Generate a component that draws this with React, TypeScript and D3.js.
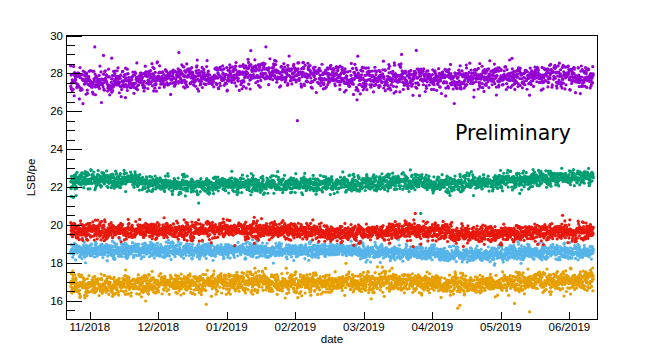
import React from 'react';
import * as d3 from 'd3';

// x positions are expressed in "tick index" units (0 = 11/2018, 1 = 12/2018, ...)
const TICK_LABELS = ['11/2018', '12/2018', '01/2019', '02/2019', '03/2019', '04/2019', '05/2019', '06/2019'];
const Y_MAJOR = [16, 18, 20, 22, 24, 26, 28, 30];

// Band centres at these x positions
const KNOTS = [-0.3, 0, 0.5, 1, 1.5, 2, 2.5, 3, 3.5, 4, 4.5, 5, 5.5, 6, 6.5, 7, 7.4];
const PURPLE_MEAN = [27.6, 27.6, 27.55, 27.7, 27.8, 27.85, 28.05, 28.0, 27.8, 27.75, 27.8, 27.75, 27.75, 27.8, 27.85, 27.85, 27.8];
const GREEN_MEAN = [22.3, 22.45, 22.35, 22.2, 22.1, 22.1, 22.15, 22.15, 22.15, 22.15, 22.3, 22.15, 22.2, 22.3, 22.4, 22.5, 22.5];
const RED_MEAN = [19.75, 19.7, 19.7, 19.7, 19.7, 19.75, 19.7, 19.7, 19.6, 19.55, 19.7, 19.7, 19.5, 19.55, 19.65, 19.65, 19.7];
const BLUE_MEAN = [18.6, 18.65, 18.65, 18.65, 18.65, 18.65, 18.65, 18.65, 18.65, 18.6, 18.55, 18.5, 18.4, 18.5, 18.55, 18.55, 18.55];
const ORANGE_MEAN = [16.85, 16.8, 16.85, 16.9, 16.9, 16.95, 17.0, 16.95, 16.9, 16.95, 17.0, 16.9, 16.8, 16.9, 17.0, 17.05, 17.05];

// Band widths (standard deviation) and share of wide scatter
const SPREADS = { purple: 0.32, green: 0.21, red: 0.22, blue: 0.19, orange: 0.26 };
const TAILS = { purple: 0.05, green: 0.015, red: 0.02, blue: 0.015, orange: 0.015 };
const COUNTS = { purple: 2000, green: 2300, red: 2400, blue: 2400, orange: 2400 };

// Individual outliers [x, value]
const PURPLE_OUT = [[3.03, 25.5], [2.57, 29.4], [0.2, 28.95], [0.32, 28.8], [1.3, 29.1], [-0.28, 28.4], [2.35, 29.2], [4.55, 29.0], [-0.1, 26.4], [3.9, 26.6]];
const GREEN_OUT = [[-0.27, 21.5], [-0.24, 21.45], [-0.2, 21.55], [4.83, 20.6], [5.6, 21.55], [1.3, 21.6]];
const RED_OUT = [[4.75, 20.6], [6.9, 20.5], [2.4, 20.4]];
const ORANGE_OUT = [[5.37, 15.6], [5.4, 15.75], [1.7, 15.8], [6.2, 15.85], [-0.25, 17.55]];

const COLORS = { purple: '#9400d3', green: '#009e73', red: '#e8190e', blue: '#56b4e9', orange: '#e69f00' };

const W = 664, H = 355;
const X0 = 66.5, X1 = 597.5, Y0 = 35.5, Y1 = 319.5;

function mulberry(seed: number) {
  let a = seed >>> 0;
  return () => {
    a = (a + 0x6d2b79f5) >>> 0;
    let t = a;
    t = Math.imul(t ^ (t >>> 15), t | 1);
    t ^= t + Math.imul(t ^ (t >>> 7), t | 61);
    return ((t ^ (t >>> 14)) >>> 0) / 4294967296;
  };
}

function makeSeries(means: number[], sd: number, tail: number, n: number, seed: number, outliers: number[][]) {
  const rnd = mulberry(seed);
  const interp = d3.scaleLinear().domain(KNOTS).range(means).clamp(true);
  const t0 = -0.28, t1 = 7.35;
  const pts: number[][] = [];
  for (let i = 0; i < n; i++) {
    const t = t0 + ((t1 - t0) * (i + rnd())) / n;
    const u1 = Math.max(rnd(), 1e-9), u2 = rnd();
    let z = Math.sqrt(-2 * Math.log(u1)) * Math.cos(2 * Math.PI * u2);
    if (rnd() < tail) z *= 1.8;
    pts.push([t, interp(t) + sd * z]);
  }
  return pts.concat(outliers);
}

export default function App() {
  const x = d3.scaleLinear().domain([-0.34, 7.41]).range([X0, X1]);
  const y = d3.scaleLinear().domain([15, 30]).range([Y1, Y0]);

  const series = [
    { key: 'purple', pts: makeSeries(PURPLE_MEAN, SPREADS.purple, TAILS.purple, COUNTS.purple, 11, PURPLE_OUT) },
    { key: 'orange', pts: makeSeries(ORANGE_MEAN, SPREADS.orange, TAILS.orange, COUNTS.orange, 22, ORANGE_OUT) },
    { key: 'blue', pts: makeSeries(BLUE_MEAN, SPREADS.blue, TAILS.blue, COUNTS.blue, 33, []) },
    { key: 'red', pts: makeSeries(RED_MEAN, SPREADS.red, TAILS.red, COUNTS.red, 44, RED_OUT) },
    { key: 'green', pts: makeSeries(GREEN_MEAN, SPREADS.green, TAILS.green, COUNTS.green, 55, GREEN_OUT) },
  ];

  const minor = d3.range(15.5, 30, 0.5).filter((v) => !Y_MAJOR.includes(v));
  const font = 'Liberation Sans, Arial, Helvetica, sans-serif';

  return (
    <svg width={W} height={H} style={{ position: 'absolute', left: 0, top: 0, background: '#fff' }}>
      <rect x={0} y={0} width={W} height={H} fill="#fff" />
      <g>
        {series.map((s) => (
          <g key={s.key} fill={(COLORS as any)[s.key]}>
            {s.pts.map((p, i) => (
              <circle key={i} cx={x(p[0])} cy={y(p[1])} r={1.6} />
            ))}
          </g>
        ))}
      </g>
      <rect x={X0} y={Y0} width={X1 - X0} height={Y1 - Y0} fill="none" stroke="#000" strokeWidth={1} />
      <g stroke="#000" strokeWidth={1} shapeRendering="crispEdges">
        {Y_MAJOR.map((v) => (
          <line key={'M' + v} x1={X0} x2={X0 + 15} y1={Math.round(y(v)) + 0.5} y2={Math.round(y(v)) + 0.5} />
        ))}
        {minor.map((v) => (
          <line key={'m' + v} x1={X0} x2={X0 + 8} y1={Math.round(y(v)) + 0.5} y2={Math.round(y(v)) + 0.5} />
        ))}
        {TICK_LABELS.map((l, i) => (
          <line key={l} x1={Math.round(x(i)) + 0.5} x2={Math.round(x(i)) + 0.5} y1={Y1} y2={Y1 - 8} />
        ))}
      </g>
      <g fontFamily={font} fontSize={11.5} fill="#000">
        {Y_MAJOR.map((v) => (
          <text key={v} x={63} y={y(v) + 4} textAnchor="end">{v}</text>
        ))}
        {TICK_LABELS.map((l, i) => (
          <text key={l} x={x(i)} y={331} textAnchor="middle">{l}</text>
        ))}
        <text x={(X0 + X1) / 2} y={343} textAnchor="middle">date</text>
        <text transform={`translate(35,${(Y0 + Y1) / 2}) rotate(-90)`} textAnchor="middle">LSB/pe</text>
      </g>
      <text x={455} y={140} fontFamily="DejaVu Sans, sans-serif" fontSize={20.5} fill="#000">Preliminary</text>
    </svg>
  );
}
